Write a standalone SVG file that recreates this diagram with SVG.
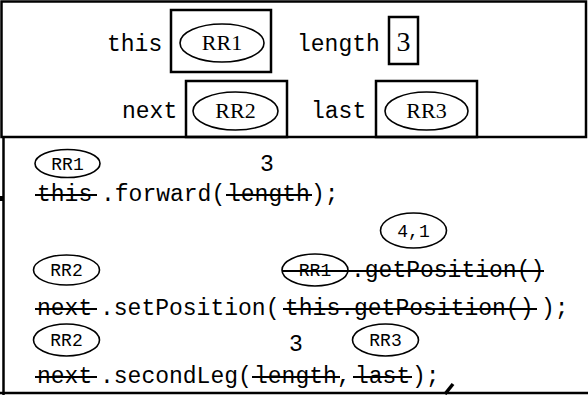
<svg xmlns="http://www.w3.org/2000/svg" width="588" height="395" viewBox="0 0 588 395">
<style>
.mono{font-family:"Liberation Mono","DejaVu Sans Mono",monospace;fill:#000}
.big{font-size:23px}
.sm{font-size:18px}
.num{font-size:23px}
.serif{font-family:"Liberation Serif","DejaVu Serif",serif;fill:#000}
.box{fill:none;stroke:#000;stroke-width:2.5}
.ell{fill:none;stroke:#000;stroke-width:1.6}
.strike{stroke:#000;stroke-width:1.8}
.frame{fill:none;stroke:#000;stroke-width:2.5}
</style>
<rect width="588" height="395" fill="#fff"/>
<g id="frame">
<rect class="frame" x="1.5" y="1.5" width="584.5" height="135.5"/>
<line class="frame" x1="3.5" y1="137" x2="3.5" y2="395"/>
<line class="frame" x1="0" y1="393" x2="588" y2="393"/>
<rect x="0" y="196" width="4" height="5" fill="#000"/>
</g>
<g id="var-this">
<text class="mono big" x="107" y="51">this</text>
<rect class="box" x="171" y="10" width="100" height="62"/>
<ellipse class="ell" cx="222" cy="43" rx="42" ry="19"/>
<text class="serif" font-size="22" x="222" y="50" text-anchor="middle">RR1</text>
</g>
<g id="var-length">
<text class="mono big" x="297" y="51">length</text>
<rect class="box" x="389" y="17" width="29" height="47"/>
<text class="serif" font-size="28" x="403.5" y="51" text-anchor="middle">3</text>
</g>
<g id="var-next">
<text class="mono big" x="122" y="118">next</text>
<rect class="box" x="186" y="81" width="101" height="56"/>
<ellipse class="ell" cx="235.5" cy="111" rx="42.5" ry="19"/>
<text class="serif" font-size="22" x="235.5" y="118" text-anchor="middle">RR2</text>
</g>
<g id="var-last">
<text class="mono big" x="311" y="118">last</text>
<rect class="box" x="376" y="81" width="101" height="56"/>
<ellipse class="ell" cx="426.5" cy="111" rx="41.5" ry="19"/>
<text class="serif" font-size="22" x="426.5" y="118" text-anchor="middle">RR3</text>
</g>
<g id="line1">
<ellipse class="ell" cx="67.5" cy="163.5" rx="32.5" ry="14"/>
<text class="mono sm" x="67.5" y="169.5" text-anchor="middle">RR1</text>
<text class="mono num" x="267" y="171" text-anchor="middle">3</text>
<text class="mono big" x="37" y="201">this</text>
<text class="mono big" x="101" y="201">.forward(</text>
<text class="mono big" x="227" y="201">length</text>
<text class="mono big" x="311" y="201">);</text>
</g>
<g id="line2">
<ellipse class="ell" cx="413.5" cy="230.5" rx="33" ry="17.5"/>
<text class="mono sm" x="413.5" y="237" text-anchor="middle">4,1</text>
<ellipse class="ell" cx="66.5" cy="270" rx="33" ry="15"/>
<text class="mono sm" x="66.5" y="276" text-anchor="middle">RR2</text>
<ellipse class="ell" cx="315" cy="270" rx="33" ry="16"/>
<text class="mono sm" x="315" y="276" text-anchor="middle">RR1</text>
<text class="mono big" x="351" y="277">.getPosition()</text>
<text class="mono big" x="37" y="315">next</text>
<text class="mono big" x="100" y="315">.setPosition(</text>
<text class="mono big" x="285" y="315">this.getPosition()</text>
<text class="mono big" x="541" y="315">);</text>
</g>
<g id="line3">
<ellipse class="ell" cx="66.5" cy="340" rx="33" ry="16"/>
<text class="mono sm" x="66.5" y="346" text-anchor="middle">RR2</text>
<text class="mono num" x="296" y="351" text-anchor="middle">3</text>
<ellipse class="ell" cx="385.5" cy="340" rx="33" ry="16"/>
<text class="mono sm" x="385.5" y="346" text-anchor="middle">RR3</text>
<text class="mono big" x="37" y="383">next</text>
<text class="mono big" x="100" y="383">.secondLeg(</text>
<text class="mono big" x="254" y="383">length</text>
<text class="mono big" x="337" y="383">,</text>
<text class="mono big" x="355" y="383">last</text>
<text class="mono big" x="412" y="383">);</text>
<line x1="445" y1="394" x2="453" y2="384" stroke="#000" stroke-width="3.5"/>
</g>
<g id="connectors">
<line class="strike" x1="35" y1="195" x2="97" y2="195"/>
<line class="strike" x1="226" y1="195" x2="312" y2="195"/>
<line class="strike" x1="282" y1="271" x2="544" y2="271"/>
<line class="strike" x1="35" y1="309" x2="97" y2="309"/>
<line class="strike" x1="283" y1="309" x2="537" y2="309"/>
<line class="strike" x1="35" y1="377" x2="97" y2="377"/>
<line class="strike" x1="252" y1="377" x2="340" y2="377"/>
<line class="strike" x1="353" y1="377" x2="412" y2="377"/>
</g>
</svg>
